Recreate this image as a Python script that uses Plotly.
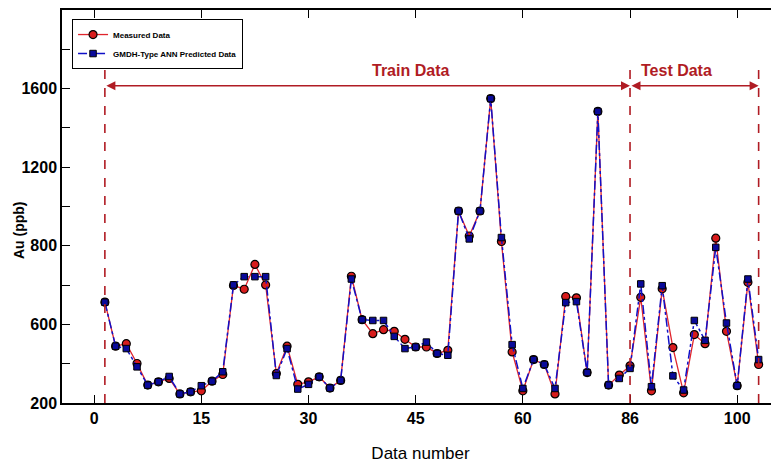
import plotly.graph_objects as go

data_number = list(range(1, 63))
measured = [513, 289, 302, 201, 91, 108, 125, 46, 57, 62,
            111, 145, 598, 579, 705, 601, 150, 289, 95, 108,
            133, 76, 115, 645, 424, 353, 373, 365, 324, 285,
            285, 252, 268, 977, 850, 977, 1549, 822, 260, 62,
            221, 196, 46, 542, 535, 155, 1484, 91, 142, 189,
            538, 62, 581, 282, 52, 348, 302, 839, 365, 88,
            614, 196]
predicted = [513, 289, 277, 184, 91, 108, 135, 46, 57, 88,
             111, 159, 601, 643, 643, 643, 140, 277, 71, 95,
             133, 76, 115, 631, 424, 420, 420, 339, 277, 285,
             310, 252, 243, 977, 835, 977, 1549, 842, 297, 74,
             221, 196, 74, 511, 516, 155, 1484, 91, 125, 176,
             606, 83, 597, 138, 66, 420, 319, 792, 407, 88,
             631, 221]

x_tickvals = [0, 10, 20, 30, 40, 50, 60]
x_ticktext = ["0", "15", "30", "45", "60", "86", "100"]
y_tickvals = [0, 400, 800, 1200, 1600]
y_ticktext = ["200", "600", "800", "1200", "1600"]

train_start, split, test_end = 1, 50, 62
arrow_y = 1615
label_y = 1690
line_top = 1722

DARKRED = "#b01c24"
FONT = "Liberation Sans, Arial, sans-serif"

fig = go.Figure()
fig.add_trace(go.Scatter(
    x=data_number, y=measured, mode="lines+markers", name="Measured Data",
    line=dict(color="#e0242c", width=1.3),
    marker=dict(symbol="circle", size=8, color="#d81c1c",
                line=dict(color="black", width=1.2)),
))
fig.add_trace(go.Scatter(
    x=data_number, y=predicted, mode="lines+markers",
    name="GMDH-Type ANN Predicted Data",
    line=dict(color="#1010c8", width=1.5, dash="dashdot"),
    marker=dict(symbol="square", size=6.5, color="#0a0a9a",
                line=dict(color="black", width=1)),
))

for xv in [train_start, split, test_end]:
    fig.add_shape(type="line", x0=xv, x1=xv, y0=0, y1=line_top,
                  xref="x", yref="y",
                  line=dict(color=DARKRED, width=1.6, dash="dash"))

for a, b in [(train_start, split), (split, test_end)]:
    fig.add_annotation(x=b, y=arrow_y, ax=a, ay=arrow_y, xref="x", yref="y",
                       axref="x", ayref="y", text="", showarrow=True,
                       arrowhead=2, arrowside="end+start", arrowsize=1.2,
                       arrowwidth=1.5, arrowcolor=DARKRED)

fig.add_annotation(x=29.5, y=label_y, xref="x", yref="y", text="Train Data",
                   showarrow=False,
                   font=dict(family=FONT, size=16, color=DARKRED, weight="bold"))
fig.add_annotation(x=54.3, y=label_y, xref="x", yref="y", text="Test Data",
                   showarrow=False,
                   font=dict(family=FONT, size=16, color=DARKRED, weight="bold"))

fig.add_annotation(x=-0.06, y=0.44, xref="paper", yref="paper", text="Au (ppb)",
                   showarrow=False, textangle=-90, xanchor="center", yanchor="middle",
                   font=dict(family=FONT, size=14, color="black", weight="bold"))

fig.update_layout(
    width=779, height=465,
    margin=dict(l=54, r=8, t=0, b=70),
    paper_bgcolor="white", plot_bgcolor="white",
    showlegend=True,
    legend=dict(x=0.014, y=0.977, xanchor="left", yanchor="top",
                bgcolor="white", bordercolor="black", borderwidth=1,
                font=dict(family=FONT, size=8, color="black", weight="bold"),
                tracegroupgap=0, itemwidth=30),
    xaxis=dict(range=[-3.0, 63.9], tickvals=x_tickvals, ticktext=x_ticktext,
               ticks="inside", ticklen=8, tickwidth=1.2, tickcolor="black",
               showline=True, linecolor="black", linewidth=1.5, mirror="ticks",
               showgrid=False, zeroline=False,
               tickfont=dict(family=FONT, size=16, color="black", weight="bold"),
               title=dict(text="Data number", standoff=21,
                          font=dict(family=FONT, size=17, color="black"))),
    yaxis=dict(range=[0, 2000], tickvals=y_tickvals, ticktext=y_ticktext,
               ticks="inside", ticklen=8, tickwidth=1.2, tickcolor="black",
               minor=dict(dtick=200, tick0=0, ticks="inside", ticklen=8,
                          tickcolor="black", tickwidth=1.2),
               showline=True, linecolor="black", linewidth=1.5, mirror=False,
               showgrid=False, zeroline=False,
               tickfont=dict(family=FONT, size=16, color="black", weight="bold")),
)

fig.write_html("out.html")
